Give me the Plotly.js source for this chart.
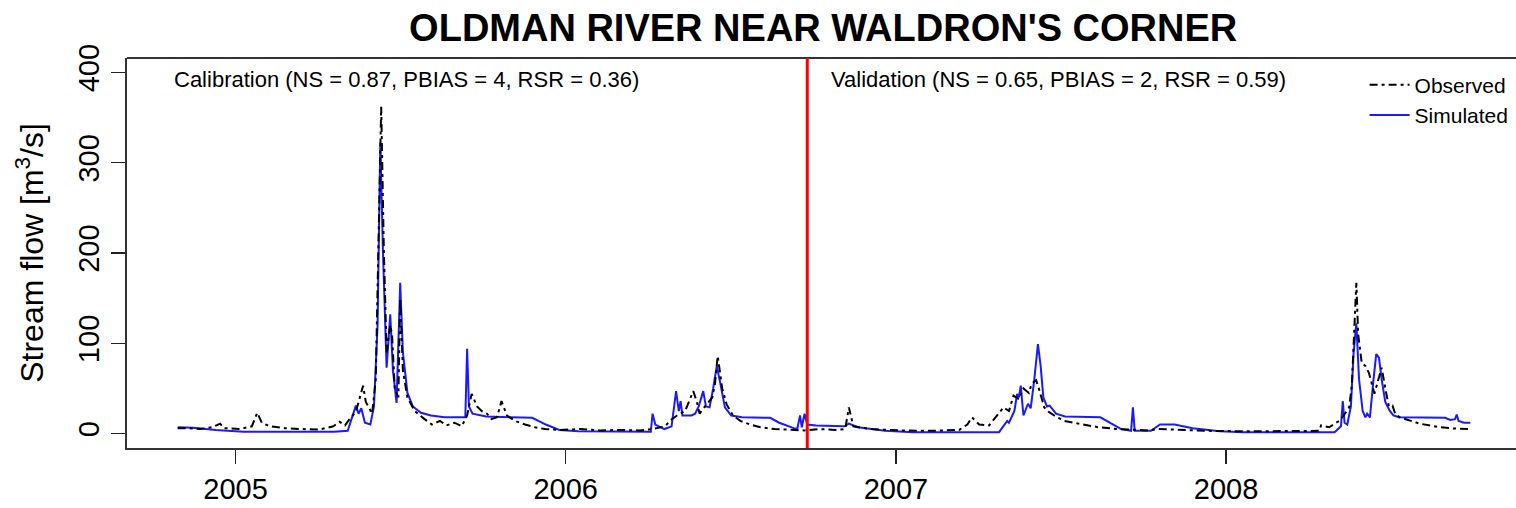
<!DOCTYPE html>
<html>
<head>
<meta charset="utf-8">
<script src="https://cdn.plot.ly/plotly-3.0.1.min.js"></script>
<style>html,body{margin:0;padding:0;background:#fff;}#chart{width:1516px;height:508px;}</style>
</head>
<body>
<div id="chart"></div>
<script>
// ---- Observed stream flow (m3/s) ----
const obsDates = [
 "2004-10-29","2004-11-11","2004-11-23","2004-12-06","2004-12-15","2004-12-19","2005-01-06","2005-01-19","2005-01-25","2005-01-30",
 "2005-02-08","2005-02-25","2005-03-13","2005-04-04","2005-04-19","2005-04-26","2005-05-02","2005-05-07","2005-05-14","2005-05-22",
 "2005-05-25","2005-06-01","2005-06-05","2005-06-08","2005-06-11","2005-06-14","2005-06-17","2005-06-21","2005-06-23","2005-06-26",
 "2005-06-30","2005-07-02","2005-07-05","2005-07-10","2005-07-18","2005-07-29","2005-08-06","2005-08-15","2005-08-22","2005-08-31",
 "2005-09-08","2005-09-14","2005-09-19","2005-09-25","2005-09-30","2005-10-06","2005-10-11","2005-10-17","2005-10-22","2005-10-28",
 "2005-11-06","2005-11-17","2005-11-28","2005-12-09","2005-12-26","2006-01-17","2006-02-08","2006-03-02","2006-03-24","2006-04-07",
 "2006-04-21","2006-04-26","2006-05-04","2006-05-13","2006-05-22","2006-05-26","2006-05-29","2006-06-04","2006-06-12","2006-06-15",
 "2006-06-18","2006-06-23","2006-06-28","2006-07-05","2006-07-13","2006-07-24","2006-08-04","2006-08-20","2006-09-06","2006-09-22",
 "2006-10-09","2006-10-26","2006-11-06","2006-11-10","2006-11-15","2006-12-03","2007-01-05","2007-02-07","2007-03-12","2007-03-21",
 "2007-03-26","2007-04-03","2007-04-14","2007-04-25","2007-04-30","2007-05-06","2007-05-11","2007-05-17","2007-05-22","2007-05-28",
 "2007-05-31","2007-06-05","2007-06-08","2007-06-14","2007-06-19","2007-06-25","2007-07-06","2007-07-22","2007-08-13","2007-09-04",
 "2007-10-07","2007-10-18","2007-11-09","2007-12-12","2008-01-26","2008-03-11","2008-04-13","2008-04-15","2008-04-24","2008-05-05",
 "2008-05-10","2008-05-16","2008-05-19","2008-05-24","2008-05-26","2008-05-30","2008-06-03","2008-06-07","2008-06-13","2008-06-16",
 "2008-06-21","2008-06-25","2008-06-29","2008-07-03","2008-07-06","2008-07-11","2008-08-02","2008-08-24","2008-09-10","2008-09-27"
];
const obsFlow = [
 6,6,5,7,11,6,5,8,23,12,
 8,6,5,4.5,8,13,9,16,24,53,
 35,22,60,200,362,200,90,120,110,50,
 40,150,70,40,25,16,10,14,9,12,
 8,20,44,30,25,22,16,18,36,20,
 14,10,7,5,4,5,3.5,4,3.5,5,
 8,14,20,25,47,35,22,30,40,55,
 86,50,32,20,14,10,7,5,4,3.5,
 5,4,5,29,8,5,3.5,3,4,10,
 18,10,9,22,29,25,42,38,50,45,
 55,59,50,29,24,20,14,11,7,5,
 3.5,5,4,3,2.5,2.5,3,9,7,14,
 20,29,53,167,110,78,75,67,44,55,
 73,50,30,31,22,18,11,7,5.5,5
];

// ---- Simulated stream flow (m3/s) ----
const simDates = [
 "2004-10-29","2004-11-15","2004-12-10","2005-01-10","2005-02-15","2005-04-20","2005-05-05","2005-05-09","2005-05-14","2005-05-17",
 "2005-05-20","2005-05-24","2005-05-30","2005-06-03","2005-06-07","2005-06-10","2005-06-13","2005-06-17","2005-06-21","2005-06-24",
 "2005-06-28","2005-07-02","2005-07-05","2005-07-10","2005-07-16","2005-07-25","2005-08-05","2005-08-20","2005-09-12","2005-09-14",
 "2005-09-16","2005-09-20","2005-10-05","2005-11-01","2005-11-25","2005-12-10","2005-12-25","2006-01-15","2006-04-05","2006-04-07",
 "2006-04-10","2006-04-20","2006-04-28","2006-05-03","2006-05-06","2006-05-08","2006-05-10","2006-05-20","2006-05-24","2006-05-28",
 "2006-06-02","2006-06-05","2006-06-09","2006-06-13","2006-06-17","2006-06-21","2006-06-26","2006-07-03","2006-07-15","2006-08-15",
 "2006-08-25","2006-09-10","2006-09-14","2006-09-17","2006-09-19","2006-09-22","2006-09-25","2006-10-05","2006-11-05","2006-11-10",
 "2006-11-20","2006-12-20","2007-01-20","2007-04-25","2007-04-30","2007-05-04","2007-05-06","2007-05-12","2007-05-15","2007-05-17",
 "2007-05-19","2007-05-22","2007-05-27","2007-05-30","2007-06-03","2007-06-07","2007-06-10","2007-06-13","2007-06-17","2007-06-20",
 "2007-06-27","2007-07-07","2007-08-15","2007-08-25","2007-09-07","2007-09-18","2007-09-20","2007-09-22","2007-10-10","2007-10-20",
 "2007-11-05","2007-11-25","2007-12-25","2008-01-20","2008-04-30","2008-05-07","2008-05-09","2008-05-11","2008-05-14","2008-05-18",
 "2008-05-21","2008-05-24","2008-05-27","2008-05-31","2008-06-03","2008-06-05","2008-06-08","2008-06-12","2008-06-15","2008-06-18",
 "2008-06-21","2008-06-25","2008-06-30","2008-07-04","2008-07-10","2008-08-30","2008-09-05","2008-09-10","2008-09-12","2008-09-14",
 "2008-09-20","2008-09-27"
];
const simFlow = [
 7,6.5,4,2,2,2,3,15,31,22,
 28,12,10,30,120,322,200,73,132,70,
 34,167,90,45,30,23,20,18,18,94,
 30,22,19,18,17.5,10,4,2.5,2,22,
 10,5,8,47,25,36,20,20,22,30,
 47,30,29,50,75,55,29,20,18,17.5,
 12,6,5,20,7,22,10,9,8,11,
 7,3,1.5,1.5,9,14,12,25,44,40,
 53,20,33,28,60,99,75,40,30,31,
 22,19,18,12,5,3,29,3,3,10,
 10,6,2.5,1.5,1.5,8,36,12,10,30,
 90,122,60,25,18,22,18,60,88,84,
 60,35,25,20,18,17.5,15,16,21,14,
 12,12
];

const splitDate = "2006-09-25";
const yTicks = [0, 100, 200, 300, 400];
const xTickVals = ["2005-01-01","2006-01-01","2007-01-01","2008-01-01"];
const xTickText = ["2005","2006","2007","2008"];

const FONT = "Liberation Sans, Arial, Helvetica, sans-serif";

const traces = [
  {x: simDates, y: simFlow, type: "scatter", mode: "lines", name: "Simulated",
   line: {color: "#1a1aff", width: 2}},
  {x: obsDates, y: obsFlow, type: "scatter", mode: "lines", name: "Observed",
   line: {color: "#000000", width: 2, dash: "8px,4px,3px,4px"}}
];

const layout = {
  width: 1516, height: 508,
  margin: {l: 127, r: 0, t: 58, b: 60},
  paper_bgcolor: "#ffffff", plot_bgcolor: "#ffffff",
  font: {family: FONT, color: "#000"},
  showlegend: true,
  legend: {x: 0.891, xanchor: "left", y: 0.983, yanchor: "top", traceorder: "reversed",
           font: {size: 21, family: FONT}, bgcolor: "rgba(0,0,0,0)", itemwidth: 40, tracegroupgap: 0},
  title: {text: "<b>OLDMAN RIVER NEAR WALDRON'S CORNER</b>", x: 0.543, xanchor: "center",
          xref: "container", y: 0.945, yanchor: "middle", yref: "container",
          font: {size: 38, family: FONT, color: "#000"}},
  xaxis: {type: "date", range: ["2004-09-03", "2008-11-16 12:00"],
          tickmode: "array", tickvals: xTickVals, ticktext: xTickText,
          ticks: "outside", ticklen: 14, tickwidth: 1.5, tickcolor: "#222",
          tickfont: {size: 29, family: FONT}, showgrid: false, zeroline: false,
          showline: true, linecolor: "#333", linewidth: 2},
  yaxis: {range: [-16, 416], tickmode: "array", tickvals: yTicks, ticktext: yTicks.map(String),
          tickangle: -90, ticks: "outside", ticklen: 14, tickwidth: 1.5, tickcolor: "#222",
          tickfont: {size: 29, family: FONT}, showgrid: false, zeroline: false,
          showline: true, linecolor: "#333", linewidth: 2,
          title: {text: "Stream flow [m<sup>3</sup>/s]", font: {size: 32, family: FONT}, standoff: 20}},
  shapes: [
    {type: "line", xref: "paper", yref: "paper", x0: 0, x1: 1, y0: 1, y1: 1,
     line: {color: "#333", width: 2}},
    {type: "line", xref: "x", yref: "paper", x0: splitDate, x1: splitDate, y0: 0, y1: 1,
     line: {color: "#ff0000", width: 3}}
  ],
  annotations: [
    {text: "Calibration (NS = 0.87, PBIAS = 4, RSR = 0.36)", xref: "paper", yref: "paper",
     x: 0.0324, y: 0.9436, xanchor: "left", yanchor: "middle", showarrow: false,
     font: {size: 22, family: FONT, color: "#000"}},
    {text: "Validation (NS = 0.65, PBIAS = 2, RSR = 0.59)", xref: "paper", yref: "paper",
     x: 0.5054, y: 0.9436, xanchor: "left", yanchor: "middle", showarrow: false,
     font: {size: 22, family: FONT, color: "#000"}}
  ]
};

Plotly.newPlot("chart", traces, layout, {staticPlot: true, displayModeBar: false});
</script>
</body>
</html>
